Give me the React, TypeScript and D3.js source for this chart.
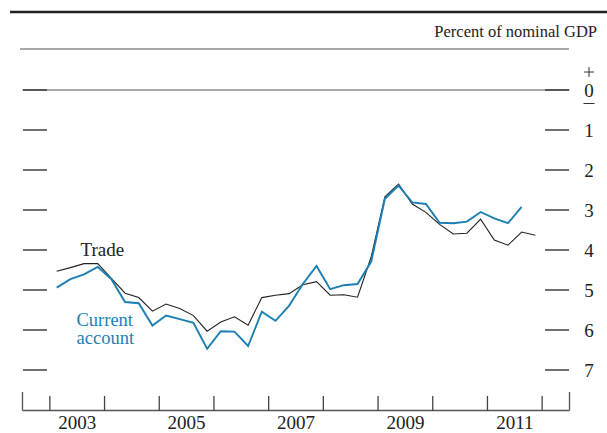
import React from "react";
import * as d3 from "d3";

const quarters: number[] = [];
for (let y = 2003; y <= 2011; y++) for (let q = 1; q <= 4; q++) quarters.push(y + (q - 0.5) / 4);

const tradeValues = [
  4.53, 4.44, 4.34, 4.34,
  4.71, 5.08, 5.19, 5.53,
  5.35, 5.46, 5.64, 6.03,
  5.8, 5.67, 5.88, 5.19,
  5.13, 5.09, 4.87, 4.79,
  5.13, 5.12, 5.18, 4.17,
  2.67, 2.35, 2.85, 3.06,
  3.36, 3.6, 3.58, 3.23,
  3.75, 3.88, 3.55, 3.63,
];

const currentAccountValues = [
  4.94, 4.73, 4.61, 4.42,
  4.73, 5.3, 5.33, 5.89,
  5.64, 5.73, 5.82, 6.47,
  6.03, 6.04, 6.4, 5.54,
  5.77, 5.39, 4.85, 4.4,
  4.98, 4.88, 4.85, 4.29,
  2.72, 2.39, 2.81, 2.85,
  3.32, 3.33, 3.29, 3.05,
  3.21, 3.33, 2.92,
];

const yTicks = [0, 1, 2, 3, 4, 5, 6, 7];
const yearTicks = [2003, 2004, 2005, 2006, 2007, 2008, 2009, 2010, 2011, 2012];
const yearLabels = [2003, 2005, 2007, 2009, 2011];

const BLUE = "#1b7fb4";
const FONT = "'Liberation Serif', 'Times New Roman', serif";

export default function App() {
  const x = d3.scaleLinear().domain([2002.5, 2012.5]).range([22.5, 569.5]);
  // values are deficits shown as positive numbers going down
  const y = d3.scaleLinear().domain([0, 7]).range([90, 370]);

  const line = d3
    .line<number>()
    .x((_, i) => x(quarters[i]))
    .y((d) => y(d));

  const axisY = 410.5;

  return (
    <svg
      width={607}
      height={433}
      style={{ position: "absolute", left: 0, top: 0, background: "#fff" }}
      fontFamily={FONT}
    >
      <line x1={10} x2={607} y1={12} y2={12} stroke="#222" strokeWidth={2.5} />
      <text x={597} y={37} textAnchor="end" fontSize={16.5} fill="#222">
        Percent of nominal GDP
      </text>
      <line x1={20} x2={569} y1={49} y2={49} stroke="#555" strokeWidth={1.2} />

      {/* zero line */}
      <line x1={x(2002.5)} x2={x(2012.5)} y1={y(0)} y2={y(0)} stroke="#555" strokeWidth={1.2} />

      {yTicks.map((t) => (
        <g key={t}>
          <line x1={23} x2={47} y1={y(t)} y2={y(t)} stroke="#333" strokeWidth={1.4} />
          <line x1={545} x2={569} y1={y(t)} y2={y(t)} stroke="#333" strokeWidth={1.4} />
          <text x={589} y={y(t) + 6.5} textAnchor="middle" fontSize={19} fill="#222">
            {t}
          </text>
        </g>
      ))}
      <line x1={584} x2={594} y1={y(0) - 18} y2={y(0) - 18} stroke="#333" strokeWidth={1} />
      <line x1={589} x2={589} y1={y(0) - 23} y2={y(0) - 13} stroke="#333" strokeWidth={1} />
      <line x1={583.5} x2={594.5} y1={y(0) + 13.5} y2={y(0) + 13.5} stroke="#333" strokeWidth={1} />

      {/* bottom axis */}
      <line x1={x(2002.5)} x2={x(2012.5)} y1={axisY} y2={axisY} stroke="#555" strokeWidth={1.3} />
      <line x1={x(2002.5)} x2={x(2002.5)} y1={392} y2={axisY} stroke="#555" strokeWidth={1.3} />
      <line x1={x(2012.5)} x2={x(2012.5)} y1={392} y2={axisY} stroke="#555" strokeWidth={1.3} />
      {yearTicks.map((t) => (
        <line key={t} x1={x(t)} x2={x(t)} y1={396} y2={axisY} stroke="#444" strokeWidth={1.3} />
      ))}
      {yearLabels.map((t) => (
        <text key={t} x={x(t + 0.5)} y={429} textAnchor="middle" fontSize={19} fill="#222">
          {t}
        </text>
      ))}

      <path d={line(tradeValues) || ""} fill="none" stroke="#222" strokeWidth={1.1} />
      <path d={line(currentAccountValues) || ""} fill="none" stroke={BLUE} strokeWidth={1.9} />

      <text x={80.5} y={256} fontSize={19} fill="#222">
        Trade
      </text>
      <text x={76.5} y={325.5} fontSize={18.5} fill={BLUE}>
        Current
      </text>
      <text x={76.5} y={344} fontSize={18.5} fill={BLUE}>
        account
      </text>
    </svg>
  );
}
